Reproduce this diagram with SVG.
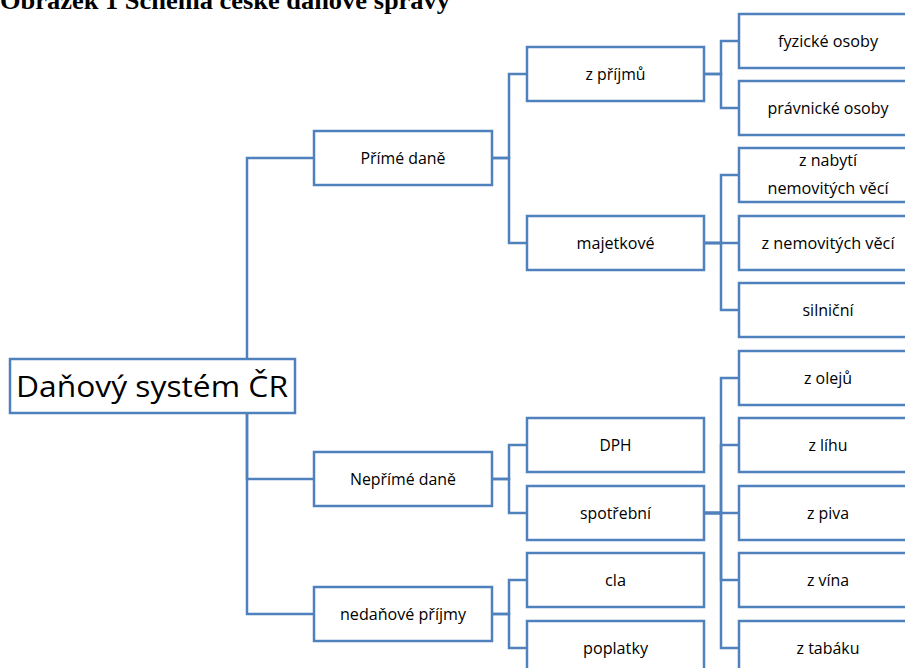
<svg xmlns="http://www.w3.org/2000/svg" width="905" height="668" viewBox="0 0 905 668">
<style>
.box{fill:#ffffff;stroke:#4F81BD;stroke-width:2.5}
.con{fill:none;stroke:#4F81BD;stroke-width:2.5}
.lbl{font-family:"Open Sans","Liberation Sans",sans-serif;font-size:16px;fill:#000000;text-anchor:middle}
.root{font-family:"Open Sans","Liberation Sans",sans-serif;font-size:30px;fill:#000000;text-anchor:middle}
.title{font-family:"Liberation Serif","Times New Roman",serif;font-size:26px;font-weight:bold;fill:#000000}
</style>
<rect width="905" height="668" fill="#ffffff"/>
<text class="title" x="0" y="9" textLength="450" lengthAdjust="spacingAndGlyphs">Obrázek 1 Schéma české daňové správy</text>
<g id="connectors">
<path class="con" d="M247,359 V158 H314"/>
<path class="con" d="M247,413 V479 H314"/>
<path class="con" d="M247,413 V614 H314"/>
<path class="con" d="M492,158 H509 V74 H527"/>
<path class="con" d="M492,158 H509 V243 H527"/>
<path class="con" d="M704,74 H721 V41 H739"/>
<path class="con" d="M704,74 H721 V108 H739"/>
<path class="con" d="M704,243 H721 V175 H739"/>
<path class="con" d="M704,243 H739"/>
<path class="con" d="M704,243 H721 V310 H739"/>
<path class="con" d="M492,479 H509 V445 H527"/>
<path class="con" d="M492,479 H509 V513 H527"/>
<path class="con" d="M704,513 H721 V378 H739"/>
<path class="con" d="M704,513 H721 V445 H739"/>
<path class="con" d="M704,513 H739"/>
<path class="con" d="M704,513 H721 V580 H739"/>
<path class="con" d="M704,513 H721 V648 H739"/>
<path class="con" d="M492,614 H509 V580 H527"/>
<path class="con" d="M492,614 H509 V648 H527"/>
</g>
<g id="root"><rect class="box" x="10" y="359" width="285" height="54"/><text class="root" x="152" y="397" textLength="272" lengthAdjust="spacingAndGlyphs">Daňový systém ČR</text></g>
<g id="prime"><rect class="box" x="314" y="131" width="178" height="54"/><text class="lbl" x="403" y="164" textLength="85" lengthAdjust="spacingAndGlyphs">Přímé daně</text></g>
<g id="neprime"><rect class="box" x="314" y="452" width="178" height="54"/><text class="lbl" x="403" y="485" textLength="106" lengthAdjust="spacingAndGlyphs">Nepřímé daně</text></g>
<g id="nedanove"><rect class="box" x="314" y="587" width="178" height="54"/><text class="lbl" x="403" y="620" textLength="126" lengthAdjust="spacingAndGlyphs">nedaňové příjmy</text></g>
<g id="zprijmu"><rect class="box" x="527" y="47" width="177" height="54"/><text class="lbl" x="615.5" y="80" textLength="60" lengthAdjust="spacingAndGlyphs">z příjmů</text></g>
<g id="majetkove"><rect class="box" x="527" y="216" width="177" height="54"/><text class="lbl" x="615.5" y="249" textLength="78" lengthAdjust="spacingAndGlyphs">majetkové</text></g>
<g id="dph"><rect class="box" x="527" y="418" width="177" height="54"/><text class="lbl" x="615.5" y="451" textLength="32" lengthAdjust="spacingAndGlyphs">DPH</text></g>
<g id="spotrebni"><rect class="box" x="527" y="486" width="177" height="54"/><text class="lbl" x="615.5" y="519" textLength="71" lengthAdjust="spacingAndGlyphs">spotřební</text></g>
<g id="cla"><rect class="box" x="527" y="553" width="177" height="54"/><text class="lbl" x="615.5" y="586" textLength="21" lengthAdjust="spacingAndGlyphs">cla</text></g>
<g id="poplatky"><rect class="box" x="527" y="621" width="177" height="54"/><text class="lbl" x="615.5" y="654" textLength="65" lengthAdjust="spacingAndGlyphs">poplatky</text></g>
<g id="fyzicke"><rect class="box" x="739" y="14" width="178" height="54"/><text class="lbl" x="828" y="47" textLength="100" lengthAdjust="spacingAndGlyphs">fyzické osoby</text></g>
<g id="pravnicke"><rect class="box" x="739" y="81" width="178" height="54"/><text class="lbl" x="828" y="114" textLength="121" lengthAdjust="spacingAndGlyphs">právnické osoby</text></g>
<g id="znabyti"><rect class="box" x="739" y="148" width="178" height="54"/><text class="lbl" x="828" y="166" textLength="58" lengthAdjust="spacingAndGlyphs">z nabytí</text><text class="lbl" x="828" y="194" textLength="121" lengthAdjust="spacingAndGlyphs">nemovitých věcí</text></g>
<g id="znemovitych"><rect class="box" x="739" y="216" width="178" height="54"/><text class="lbl" x="828" y="249" textLength="133" lengthAdjust="spacingAndGlyphs">z nemovitých věcí</text></g>
<g id="silnicni"><rect class="box" x="739" y="283" width="178" height="54"/><text class="lbl" x="828" y="316" textLength="51" lengthAdjust="spacingAndGlyphs">silniční</text></g>
<g id="zoleju"><rect class="box" x="739" y="351" width="178" height="54"/><text class="lbl" x="828" y="384" textLength="48" lengthAdjust="spacingAndGlyphs">z olejů</text></g>
<g id="zlihu"><rect class="box" x="739" y="418" width="178" height="54"/><text class="lbl" x="828" y="451" textLength="39" lengthAdjust="spacingAndGlyphs">z líhu</text></g>
<g id="zpiva"><rect class="box" x="739" y="486" width="178" height="54"/><text class="lbl" x="828" y="519" textLength="42" lengthAdjust="spacingAndGlyphs">z piva</text></g>
<g id="zvina"><rect class="box" x="739" y="553" width="178" height="54"/><text class="lbl" x="828" y="586" textLength="42" lengthAdjust="spacingAndGlyphs">z vína</text></g>
<g id="ztabaku"><rect class="box" x="739" y="621" width="178" height="54"/><text class="lbl" x="828" y="654" textLength="63" lengthAdjust="spacingAndGlyphs">z tabáku</text></g>
</svg>
